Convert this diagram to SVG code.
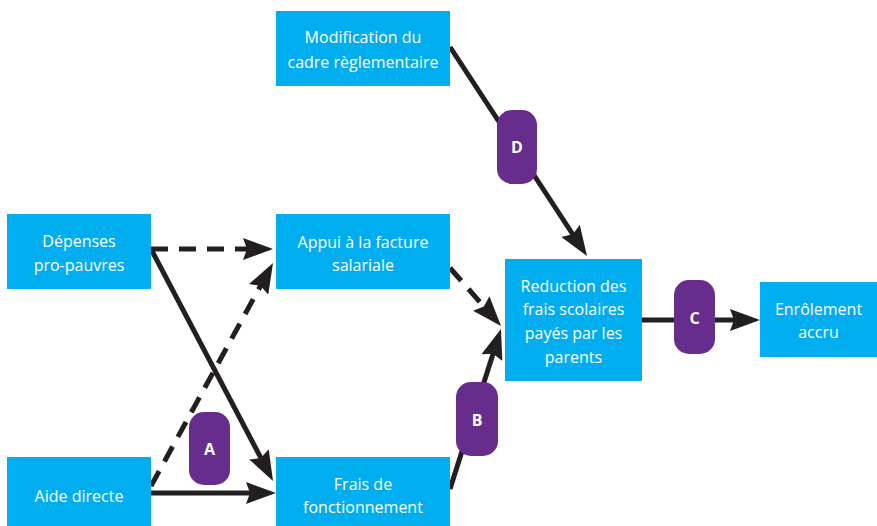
<svg xmlns="http://www.w3.org/2000/svg" width="877" height="526" viewBox="0 0 877 526">
<style>
.box{fill:#00aeef}
.t{font-family:"Open Sans","Noto Sans",sans-serif;font-size:16px;fill:#ffffff;text-anchor:middle}
.badge{fill:#662d8c}
.bt{font-family:"Open Sans","Noto Sans",sans-serif;font-size:16px;font-weight:bold;fill:#ffffff;text-anchor:middle}
.c{stroke:#231f20;stroke-width:5;fill:none;marker-end:url(#ah)}
.d{stroke-dasharray:17 11}
</style>
<defs>
<marker id="ah" viewBox="0 0 30 22" refX="15" refY="11" markerWidth="30" markerHeight="22" markerUnits="userSpaceOnUse" orient="auto">
<path d="M0,0 L30,11 L0,22 L4,11 z" fill="#231f20"/>
</marker>
</defs>
<g id="connectors">
<line class="c d" x1="151" y1="249" x2="258" y2="249"/>
<line class="c" x1="151" y1="249" x2="266" y2="467.7"/>
<line class="c d" x1="151" y1="486" x2="265.8" y2="276.2"/>
<line class="c" x1="151" y1="493" x2="261" y2="493"/>
<line class="c d" x1="450" y1="268" x2="491.1" y2="314.7"/>
<line class="c" x1="450" y1="489" x2="496.4" y2="343.3"/>
<line class="c" x1="450" y1="47" x2="578.8" y2="243.5"/>
<line class="c" x1="642" y1="320" x2="745" y2="320"/>
</g>
<g id="node-modification">
<rect class="box" x="276" y="11" width="174" height="75"/>
<text class="t" x="363" y="43">Modification du</text>
<text class="t" x="363" y="68">cadre règlementaire</text>
</g>
<g id="node-depenses">
<rect class="box" x="7" y="214" width="144" height="75"/>
<text class="t" x="79" y="247">Dépenses</text>
<text class="t" x="79" y="271">pro-pauvres</text>
</g>
<g id="node-appui">
<rect class="box" x="276" y="214" width="174" height="75"/>
<text class="t" x="363" y="248">Appui à la facture</text>
<text class="t" x="363" y="271">salariale</text>
</g>
<g id="node-aide">
<rect class="box" x="7" y="457" width="144" height="75"/>
<text class="t" x="79" y="502">Aide directe</text>
</g>
<g id="node-frais">
<rect class="box" x="276" y="457" width="174" height="75"/>
<text class="t" x="363" y="490">Frais de</text>
<text class="t" x="363" y="513">fonctionnement</text>
</g>
<g id="node-reduction">
<rect class="box" x="505" y="259" width="137" height="122"/>
<text class="t" x="573.5" y="292">Reduction des</text>
<text class="t" x="573.5" y="315">frais scolaires</text>
<text class="t" x="573.5" y="339">payés par les</text>
<text class="t" x="573.5" y="363">parents</text>
</g>
<g id="node-enrolement">
<rect class="box" x="760" y="282" width="117" height="75"/>
<text class="t" x="818.5" y="315">Enrôlement</text>
<text class="t" x="818.5" y="338">accru</text>
</g>
<g id="badge-a">
<rect class="badge" x="189" y="412" width="41" height="73" rx="15"/>
<text class="bt" x="209.5" y="455">A</text>
</g>
<g id="badge-b">
<rect class="badge" x="456" y="382" width="42" height="74" rx="15"/>
<text class="bt" x="477" y="426">B</text>
</g>
<g id="badge-c">
<rect class="badge" x="674" y="280" width="41" height="74" rx="15"/>
<text class="bt" x="694.5" y="324">C</text>
</g>
<g id="badge-d">
<rect class="badge" x="497" y="110" width="40" height="74" rx="15"/>
<text class="bt" x="517" y="153">D</text>
</g>
</svg>
